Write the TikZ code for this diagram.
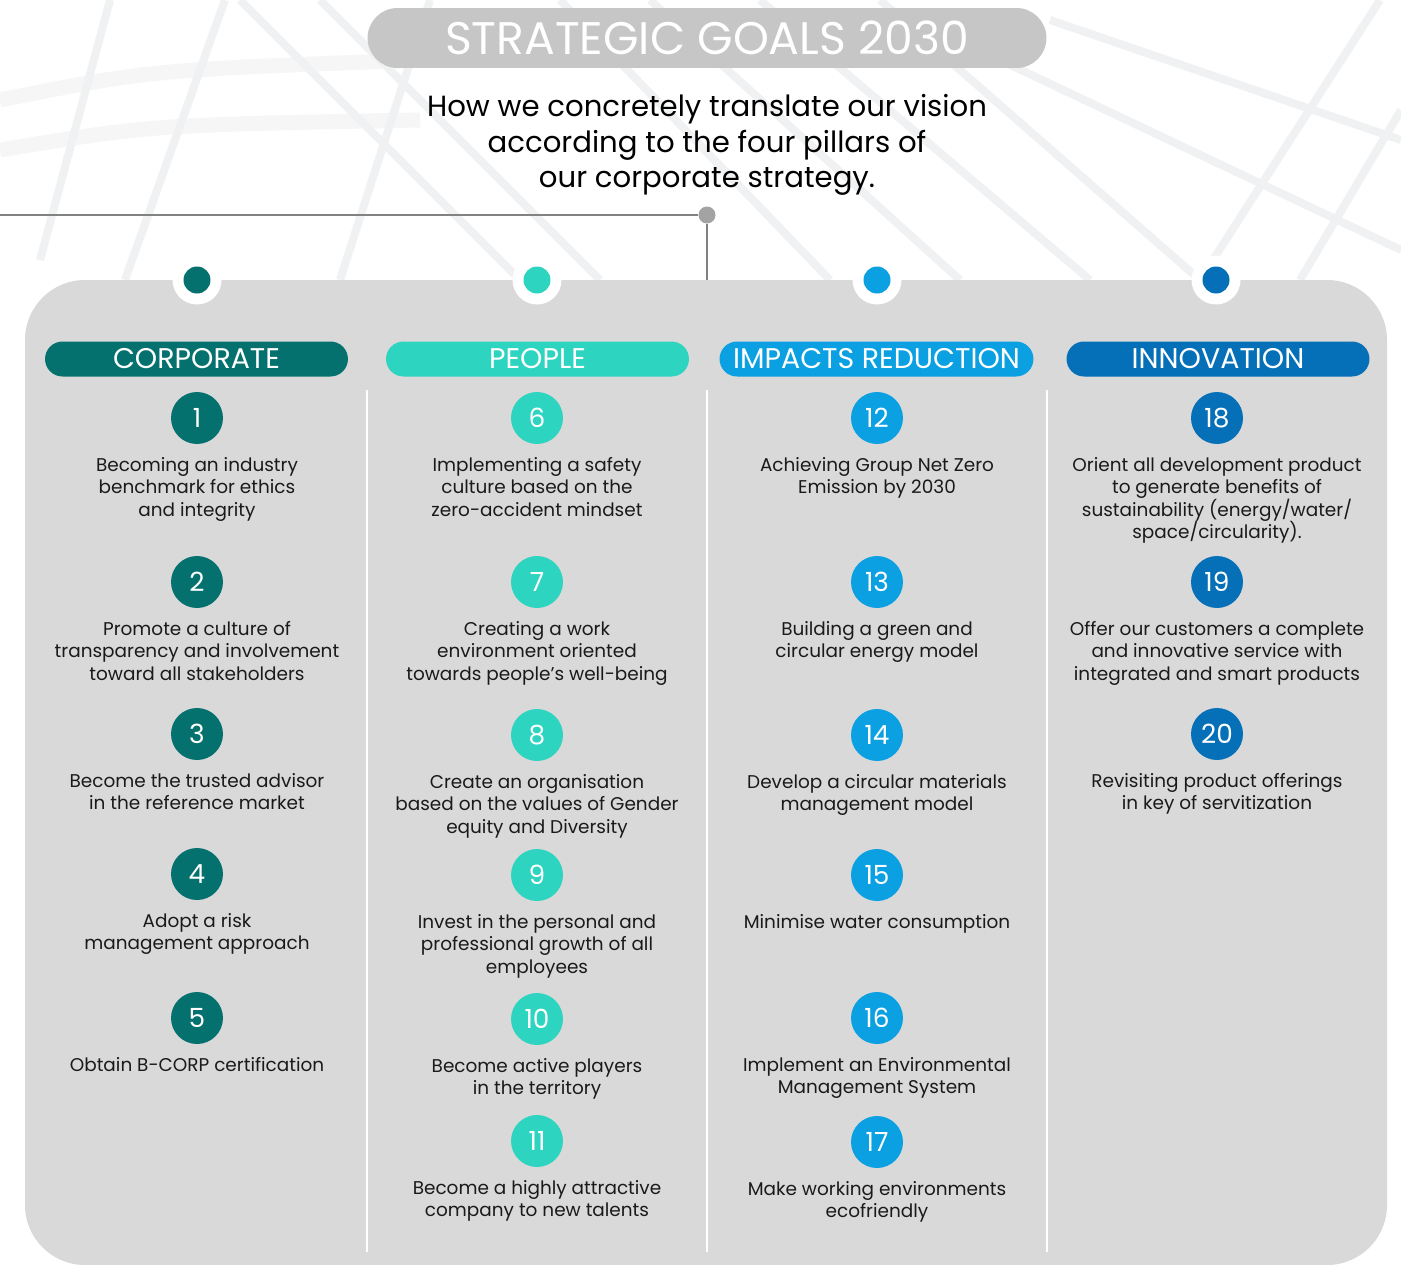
\documentclass[tikz,border=0pt]{standalone}
\usepackage{fontspec}
\setmainfont{Poppins}
\usetikzlibrary{positioning}

\definecolor{corp}{HTML}{04716F}
\definecolor{people}{HTML}{2DD4C0}
\definecolor{impact}{HTML}{0AA0E2}
\definecolor{innov}{HTML}{0570B8}
\definecolor{panel}{HTML}{D9D9D9}
\definecolor{titlegrey}{HTML}{C6C6C6}
\definecolor{hubgrey}{HTML}{A3A3A3}
\definecolor{bgline}{HTML}{F0F1F2}
\definecolor{bgfaint}{HTML}{F6F6F6}
\definecolor{ink}{HTML}{1A1A1A}

\tikzset{
  goal/.style={circle, minimum size=1.04cm, inner sep=0pt, text=white, font=\fontsize{15}{15}\selectfont},
  goaltext/.style={below=0.25cm of #1, anchor=north, align=center, inner sep=0pt, text=ink, font=\fontsize{10.5}{12.8}\selectfont},
  pillar/.style={rounded corners=0.35cm, minimum width=6.06cm, minimum height=0.7cm, inner sep=0pt, text=white, font=\fontsize{16.2}{16.2}\selectfont},
  topdot/.style={circle, minimum size=0.54cm, inner sep=0pt},
  ring/.style={circle, fill=white, minimum size=0.98cm, inner sep=0pt},
  bgstroke/.style={draw=bgline, line width=0.16cm},
}

\begin{document}
\begin{tikzpicture}[x=0.02cm, y=-0.02cm]
    \useasboundingbox[fill=white] (0,0) rectangle (1401,1265);

    % faint background strokes
    \draw[bgstroke, draw=bgfaint, line width=0.3cm] (0,100) .. controls (150,70) .. (420,60);
    \draw[bgstroke, draw=bgfaint, line width=0.3cm] (0,150) .. controls (150,125) .. (420,120);
    \draw[bgstroke] (240,0) -- (520,280);
    \draw[bgstroke] (320,0) -- (600,280);
    \draw[bgstroke] (560,0) -- (830,280);
    \draw[bgstroke] (650,0) -- (960,280);
    \draw[bgstroke] (760,0) -- (1090,280);
    \draw[bgstroke] (880,0) -- (1200,280);
    \draw[bgstroke] (1000,60) -- (1401,250);
    \draw[bgstroke] (1050,20) -- (1401,140);
    \draw[bgstroke] (1380,0) -- (1200,280);
    \draw[bgstroke] (1401,110) -- (1300,280);
    \draw[bgstroke] (110,0) -- (40,260);
    \draw[bgstroke] (225,0) -- (125,280);
    \draw[bgstroke] (430,0) -- (340,280);

    % title
    \node[fill=titlegrey, rounded corners=0.6cm, minimum width=13.58cm, minimum height=1.2cm, inner sep=0pt,
          text=white, font=\fontsize{26}{26}\selectfont] (title) at (707,38) {STRATEGIC GOALS 2030};
    \node[align=center, text=black, font=\fontsize{16.6}{20.2}\selectfont] (subtitle) at (707,145)
        {How we concretely translate our vision\\according to the four pillars of\\our corporate strategy.};

    % panel
    \fill[panel, rounded corners=1.2cm] (25,280) rectangle (1387,1265);

    % hub
    \coordinate (left) at (0,215);
    \coordinate (paneltop) at (707,280);
    \node[circle, fill=hubgrey, minimum size=0.34cm, inner sep=0pt] (hub) at (707,215) {};
    \draw[hubgrey!80!black, line width=0.8pt] (left) -- (hub);
    \draw[hubgrey!80!black, line width=0.8pt] (hub) -- (paneltop);

    % dots on the panel edge
    \node[ring] (ringa) at (197,280) {};
    \node[ring] (ringb) at (537,280) {};
    \node[ring] (ringc) at (877,280) {};
    \node[ring] (ringd) at (1216,280) {};
    \node[topdot, fill=corp] (dota) at (197,280) {};
    \node[topdot, fill=people] (dotb) at (537,280) {};
    \node[topdot, fill=impact] (dotc) at (877,280) {};
    \node[topdot, fill=innov] (dotd) at (1216,280) {};

    % pillars
    \node[pillar, fill=corp] (corporate) at (196.5,359) {CORPORATE};
    \node[pillar, fill=people] (people) at (537.5,359) {PEOPLE};
    \node[pillar, fill=impact, minimum width=6.28cm] (impacts) at (876.5,359) {IMPACTS REDUCTION};
    \node[pillar, fill=innov] (innovation) at (1218,359) {INNOVATION};

    % separators
    \draw[white, line width=1pt] (367,390) -- (367,1252);
    \draw[white, line width=1pt] (707,390) -- (707,1252);
    \draw[white, line width=1pt] (1047,390) -- (1047,1252);

    % corporate
    \node[goal, fill=corp] (g1) at (197,418) {1};
    \node[goaltext=g1] (t1) {Becoming an industry\\benchmark for ethics\\and integrity};
    \node[goal, fill=corp] (g2) at (197,582) {2};
    \node[goaltext=g2] (t2) {Promote a culture of\\transparency and involvement\\toward all stakeholders};
    \node[goal, fill=corp] (g3) at (197,734) {3};
    \node[goaltext=g3] (t3) {Become the trusted advisor\\in the reference market};
    \node[goal, fill=corp] (g4) at (197,874) {4};
    \node[goaltext=g4] (t4) {Adopt a risk\\management approach};
    \node[goal, fill=corp] (g5) at (197,1018) {5};
    \node[goaltext=g5] (t5) {Obtain B-CORP certification};

    % people
    \node[goal, fill=people] (g6) at (537,418) {6};
    \node[goaltext=g6] (t6) {Implementing a safety\\culture based on the\\zero-accident mindset};
    \node[goal, fill=people] (g7) at (537,582) {7};
    \node[goaltext=g7] (t7) {Creating a work\\environment oriented\\towards people's well-being};
    \node[goal, fill=people] (g8) at (537,735) {8};
    \node[goaltext=g8] (t8) {Create an organisation\\based on the values of Gender\\equity and Diversity};
    \node[goal, fill=people] (g9) at (537,875) {9};
    \node[goaltext=g9] (t9) {Invest in the personal and\\professional growth of all\\employees};
    \node[goal, fill=people] (g10) at (537,1019) {10};
    \node[goaltext=g10] (t10) {Become active players\\in the territory};
    \node[goal, fill=people] (g11) at (537,1141) {11};
    \node[goaltext=g11] (t11) {Become a highly attractive\\company to new talents};

    % impacts reduction
    \node[goal, fill=impact] (g12) at (877,418) {12};
    \node[goaltext=g12] (t12) {Achieving Group Net Zero\\Emission by 2030};
    \node[goal, fill=impact] (g13) at (877,582) {13};
    \node[goaltext=g13] (t13) {Building a green and\\circular energy model};
    \node[goal, fill=impact] (g14) at (877,735) {14};
    \node[goaltext=g14] (t14) {Develop a circular materials\\management model};
    \node[goal, fill=impact] (g15) at (877,875) {15};
    \node[goaltext=g15] (t15) {Minimise water consumption};
    \node[goal, fill=impact] (g16) at (877,1018) {16};
    \node[goaltext=g16] (t16) {Implement an Environmental\\Management System};
    \node[goal, fill=impact] (g17) at (877,1142) {17};
    \node[goaltext=g17] (t17) {Make working environments\\ecofriendly};

    % innovation
    \node[goal, fill=innov] (g18) at (1217,418) {18};
    \node[goaltext=g18] (t18) {Orient all development product\\to generate benefits of\\sustainability (energy/water/\\space/circularity).};
    \node[goal, fill=innov] (g19) at (1217,582) {19};
    \node[goaltext=g19] (t19) {Offer our customers a complete\\and innovative service with\\integrated and smart products};
    \node[goal, fill=innov] (g20) at (1217,734) {20};
    \node[goaltext=g20] (t20) {Revisiting product offerings\\in key of servitization};
\end{tikzpicture}
\end{document}
